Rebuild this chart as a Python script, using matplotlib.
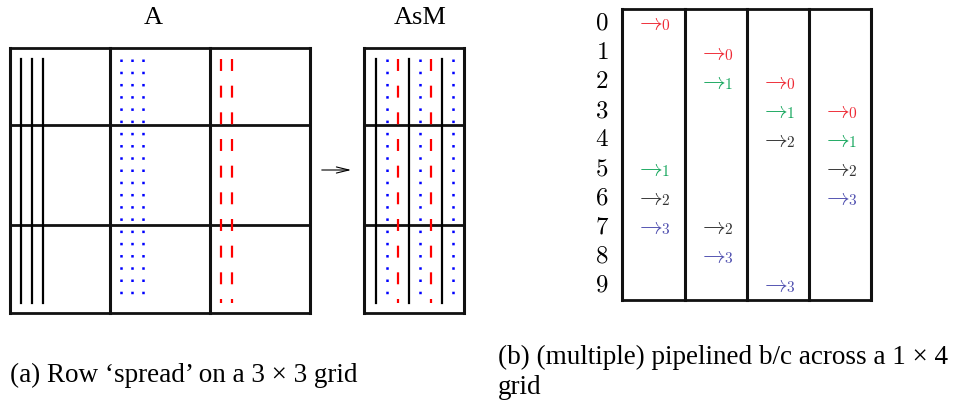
import matplotlib
matplotlib.use('Agg')
import matplotlib.pyplot as plt

plt.rcParams['mathtext.fontset'] = 'cm'
plt.rcParams['lines.scale_dashes'] = False

# panel (a): one line style per block column, number of lines drawn in it
line_colors = ['black', 'blue', 'red']
line_counts = [3, 3, 2]

# panel (b): broadcast schedule (column of the 1x4 grid, time step, message)
bc_col = [0, 0, 0, 0, 1, 1, 1, 1, 2, 2, 2, 2, 3, 3, 3, 3]
bc_step = [0, 5, 6, 7, 1, 2, 7, 8, 2, 3, 4, 9, 3, 4, 5, 6]
bc_msg = [0, 1, 2, 3, 0, 1, 2, 3, 0, 1, 2, 3, 0, 1, 2, 3]
msg_colors = ['#ee2a35', '#1aa860', '#333333', '#5050b0']
steps = list(range(10))

fig = plt.figure(figsize=(9.55, 4.08), dpi=100)
ax = fig.add_axes([0, 0, 1, 1])
ax.set_xlim(0, 955)
ax.set_ylim(408, 0)
ax.axis('off')

styles = [dict(ls='-', lw=1.6),
          dict(dashes=(1.8, 7.0), lw=1.8),
          dict(dashes=(8.6, 10.6), lw=1.6)]


def grid_box(x0, x1, ys, xs):
    for y in ys:
        ax.plot([x0, x1], [y, y], color='#111111', lw=2.0, solid_capstyle='projecting')
    for x in xs:
        ax.plot([x, x], [ys[0], ys[-1]], color='#111111', lw=2.2, solid_capstyle='projecting')


row_edges = [48, 125, 225, 313]
y_top, y_bot = 59, 303

# --- A ---
grid_box(10, 310, row_edges, [10, 110, 210, 310])
for s, (c, n) in enumerate(zip(line_colors, line_counts)):
    for k in range(n):
        x = 21 + 100 * s + 11 * k
        ax.plot([x, x], [y_top, y_bot], color=c, **styles[s])
ax.text(153, 18, 'A', family='Liberation Serif', fontsize=19, ha='center', va='center')

# arrow between A and AsM
ax.annotate('', xy=(354, 170), xytext=(319, 170),
            arrowprops=dict(arrowstyle='->,head_length=0.9,head_width=0.22', lw=0.8, color='black'))

# --- AsM ---
grid_box(364, 464, row_edges, [364, 464])
for s, (c, n) in enumerate(zip(line_colors, line_counts)):
    for k in range(n):
        x = 376 + 33 * k + 11 * s
        ax.plot([x, x], [y_top, y_bot], color=c, **styles[s])
ax.text(420, 18, 'AsM', family='Liberation Serif', fontsize=19, ha='center', va='center')

# --- panel (b) ---
col_x = [622, 685, 747, 809, 871]
grid_box(622, 871, [9, 300], col_x)
row_y = [23 + 29.1 * i for i in steps]
for i in steps:
    ax.text(602, row_y[i], r'$%d$' % i, fontsize=18, ha='center', va='center')
for c, st, m in zip(bc_col, bc_step, bc_msg):
    ax.text(col_x[c] + 13, row_y[st] + 6.5, r'$\rightarrow$', color=msg_colors[m],
            fontsize=16.5, ha='left', va='baseline')
    ax.text(col_x[c] + 39, row_y[st] + 7.5, r'$%d$' % m, color=msg_colors[m],
            fontsize=11, ha='left', va='baseline')

# captions
ax.text(10, 375, "(a) Row \u2018spread\u2019 on a 3 \u00d7 3 grid", family='Liberation Serif',
        fontsize=19.5, ha='left', va='center')
ax.text(498, 357, "(b) (multiple) pipelined b/c across a 1 \u00d7 4", family='Liberation Serif',
        fontsize=19.5, ha='left', va='center')
ax.text(498, 388, "grid", family='Liberation Serif', fontsize=19.5, ha='left', va='center')

fig.savefig('out.png', dpi=100)
